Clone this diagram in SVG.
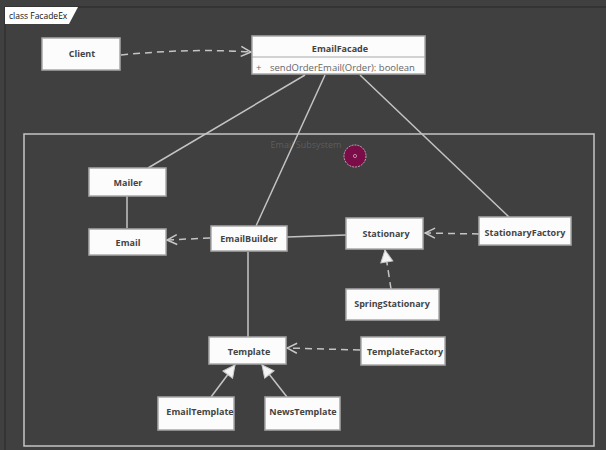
<svg xmlns="http://www.w3.org/2000/svg" width="606" height="450" viewBox="0 0 606 450">
<defs>
<style>
.node rect{fill:#fcfcfc;stroke:#a8a8a8;stroke-width:1.5}
.node text{font-family:"Open Sans","Noto Sans",sans-serif;font-size:9px;font-weight:bold;fill:#444;text-anchor:middle}
.ln{stroke:#c4c4c4;stroke-width:1.5;fill:none}
.dash{stroke-dasharray:7,5}
</style>
<marker id="open" viewBox="0 0 12 12" refX="11" refY="6" markerWidth="12" markerHeight="12" markerUnits="userSpaceOnUse" orient="auto">
<path d="M1,1 L11,6 L1,11" fill="none" stroke="#c8c8c8" stroke-width="1.5"/>
</marker>
<marker id="tri" viewBox="0 0 14 14" refX="13" refY="7" markerWidth="14" markerHeight="14" markerUnits="userSpaceOnUse" orient="auto">
<path d="M1,1 L13,7 L1,13 Z" fill="#f4f4f4" stroke="#c8c8c8" stroke-width="1"/>
</marker>
</defs>
<rect x="0" y="0" width="606" height="450" fill="#404040"/>
<path d="M5,450 L5,7 L606,7" fill="none" stroke="#303030" stroke-width="1.5"/>
<polygon points="5,7 78,7 69,24 5,24" fill="#ffffff"/>
<text x="9" y="19" font-family="'Open Sans','Noto Sans',sans-serif" font-size="8.5" fill="#111">class FacadeEx</text>

<g id="subsystem">
<rect x="24" y="134" width="570" height="312" fill="none" stroke="#c4c4c4" stroke-width="1.5"/>
<text x="306" y="148" font-family="'Open Sans','Noto Sans',sans-serif" font-size="9" fill="#5c5c5c" text-anchor="middle">Email Subsystem</text>
<circle cx="355" cy="156" r="11" fill="#7a0c48" stroke="#d0d0d0" stroke-width="0.8" stroke-dasharray="2,1"/>
<circle cx="355" cy="156" r="1.6" fill="none" stroke="#d0a0c0" stroke-width="0.8"/>
</g>

<g id="connectors">
<path class="ln dash" d="M121,55 Q190,48 251,52" marker-end="url(#open)"/>
<line class="ln" x1="305" y1="75" x2="148" y2="168"/>
<line class="ln" x1="325" y1="75" x2="256" y2="226"/>
<line class="ln" x1="360" y1="75" x2="509" y2="217"/>
<line class="ln" x1="127" y1="196" x2="127" y2="228"/>
<line class="ln dash" x1="210" y1="238" x2="167" y2="240" marker-end="url(#open)"/>
<line class="ln" x1="287" y1="237" x2="346" y2="235"/>
<line class="ln dash" x1="479" y1="234" x2="425" y2="233" marker-end="url(#open)"/>
<line class="ln dash" x1="391" y1="289" x2="385" y2="250" marker-end="url(#tri)"/>
<line class="ln" x1="248" y1="252" x2="248" y2="337"/>
<line class="ln dash" x1="360" y1="350" x2="287" y2="348" marker-end="url(#open)"/>
<line class="ln" x1="211" y1="397" x2="235" y2="365" marker-end="url(#tri)"/>
<line class="ln" x1="287" y1="397" x2="262" y2="365" marker-end="url(#tri)"/>
</g>

<g id="Client" class="node"><rect x="42" y="38" width="78" height="32"/><text x="82" y="57">Client</text></g>
<g id="EmailFacade" class="node"><rect x="252" y="36" width="173" height="38"/><line x1="252" y1="57" x2="425" y2="57" stroke="#a8a8a8" stroke-width="1.2"/><text x="340" y="52">EmailFacade</text><text x="256" y="71" style="font-weight:normal;text-anchor:start;fill:#666;font-size:9.5px">+</text><text x="270" y="71" style="font-weight:normal;text-anchor:start;fill:#666;font-size:9.5px">sendOrderEmail(Order): boolean</text></g>
<g id="Mailer" class="node"><rect x="89" y="168" width="77" height="28"/><text x="128" y="186">Mailer</text></g>
<g id="Email" class="node"><rect x="89" y="229" width="77" height="26"/><text x="128" y="246">Email</text></g>
<g id="EmailBuilder" class="node"><rect x="211" y="226" width="76" height="25"/><text x="249" y="242">EmailBuilder</text></g>
<g id="Stationary" class="node"><rect x="346" y="218" width="77" height="31"/><text x="386" y="237">Stationary</text></g>
<g id="StationaryFactory" class="node"><rect x="479" y="217" width="92" height="28"/><text x="525" y="236">StationaryFactory</text></g>
<g id="SpringStationary" class="node"><rect x="346" y="289" width="93" height="31"/><text x="392" y="307">SpringStationary</text></g>
<g id="Template" class="node"><rect x="209" y="337" width="77" height="27"/><text x="249" y="355">Template</text></g>
<g id="TemplateFactory" class="node"><rect x="361" y="337" width="84" height="28"/><text x="405" y="355">TemplateFactory</text></g>
<g id="EmailTemplate" class="node"><rect x="158" y="397" width="76" height="33"/><text x="200" y="415">EmailTemplate</text></g>
<g id="NewsTemplate" class="node"><rect x="265" y="397" width="75" height="33"/><text x="303" y="415">NewsTemplate</text></g>
</svg>
